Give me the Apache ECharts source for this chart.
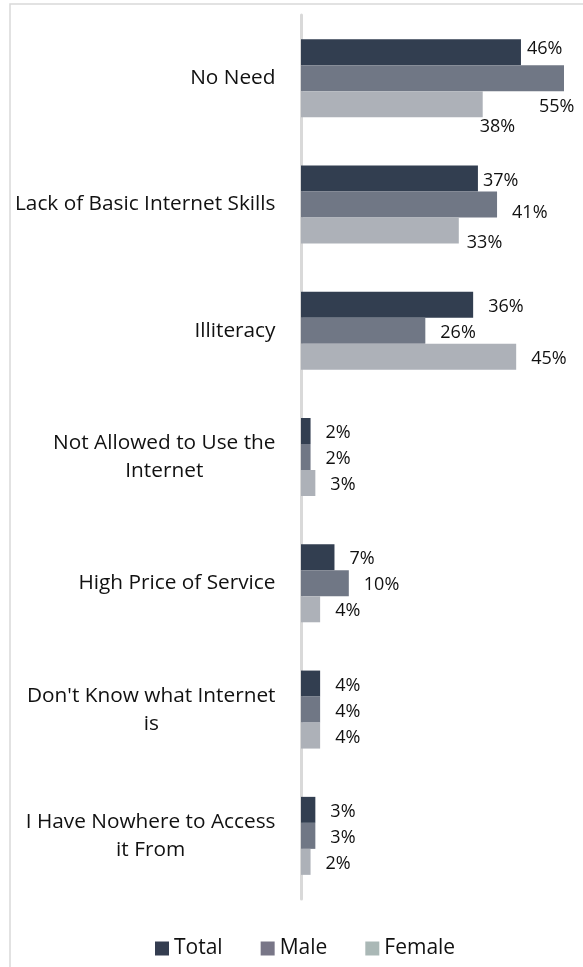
<!DOCTYPE html>
<html>
<head>
<meta charset="utf-8">
<script src="https://cdn.jsdelivr.net/npm/echarts@6/dist/echarts.min.js"></script>
<style>
  html, body { margin: 0; padding: 0; background: #fff; }
  #chart { width: 583px; height: 967px; }
</style>
</head>
<body>
<div id="chart"></div>
<script>
// Reasons for not using the internet, by gender (%)
const categories = [
  'No Need',
  'Lack of Basic Internet Skills',
  'Illiteracy',
  'Not Allowed to Use the\nInternet',
  'High Price of Service',
  "Don't Know what Internet\nis",
  'I Have Nowhere to Access\nit From'
];
const totalValues  = [46, 37, 36, 2, 7, 4, 3];
const maleValues   = [55, 41, 26, 2, 10, 4, 3];
const femaleValues = [38, 33, 45, 3, 4, 4, 2];
const seriesNames  = ['Total', 'Male', 'Female'];

// Hand-placed data labels (offsets in px, relative to the default spot)
const labelNudge = {
  'Total|0':  [-9, -3],
  'Male|0':   [-40, 29],
  'Female|0': [-18, 23],
  'Total|1':  [-10, 2],
  'Male|1':   [0, 8],
  'Female|1': [-7, 12]
};

const FONT = '"Open Sans", sans-serif';
const TEXT = '#111';
const barColors = ['#323e50', '#707785', '#adb1b8'];
const legendColors = ['#343d50', '#787687', '#aab8b6'];

function buildData(name, values) {
  return values.map(function (v, i) {
    const nudge = labelNudge[name + '|' + i];
    if (!nudge) return v;
    return { value: v, label: { offset: nudge } };
  });
}

function makeSeries(name, values, color) {
  return {
    name: name,
    type: 'bar',
    barWidth: 26,
    barGap: '0%',
    data: buildData(name, values),
    itemStyle: { color: color },
    label: {
      show: true,
      position: 'right',
      distance: 15,
      offset: [0, 2],
      formatter: '{c}%',
      fontFamily: FONT,
      fontSize: 18,
      color: TEXT
    }
  };
}

const chart = echarts.init(document.getElementById('chart'), null, { renderer: 'canvas' });

chart.setOption({
  animation: false,
  backgroundColor: '#fff',
  graphic: [{
    type: 'rect',
    shape: { x: 10, y: 4, width: 620, height: 1000 },
    style: { fill: 'none', stroke: '#d9d9d9', lineWidth: 1.5 },
    silent: true,
    z: -1
  }],
  grid: { left: 301, right: 19, top: 15, bottom: 68, containLabel: false },
  xAxis: {
    type: 'value',
    min: 0,
    max: 55,
    show: false
  },
  yAxis: {
    type: 'category',
    data: categories,
    inverse: true,
    offset: 1.5,
    axisLine: { show: true, lineStyle: { color: '#d9d9d9', width: 3 } },
    axisTick: { show: false },
    splitLine: { show: false },
    axisLabel: {
      margin: 24,
      align: 'right',
      fontFamily: FONT,
      fontSize: 20.8,
      color: TEXT,
      formatter: function (val) {
        return val.split('\n').map(function (line) { return '{c|' + line + '}'; }).join('\n');
      },
      rich: {
        c: { align: 'center', fontFamily: FONT, fontSize: 20.8, color: TEXT, lineHeight: 28 }
      }
    }
  },
  legend: {
    left: 150,
    top: 933,
    icon: 'rect',
    itemWidth: 14,
    itemHeight: 14,
    itemGap: 38,
    textStyle: { fontFamily: FONT, fontSize: 21, color: TEXT },
    data: seriesNames.map(function (n, i) {
      return { name: n, itemStyle: { color: legendColors[i] } };
    })
  },
  series: [
    makeSeries(seriesNames[0], totalValues, barColors[0]),
    makeSeries(seriesNames[1], maleValues, barColors[1]),
    makeSeries(seriesNames[2], femaleValues, barColors[2])
  ]
});
</script>
</body>
</html>
